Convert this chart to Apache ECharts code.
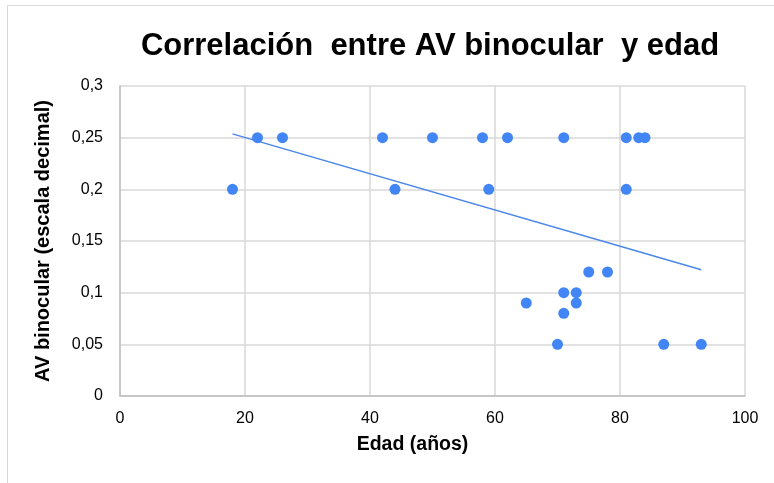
<!DOCTYPE html>
<html><head><meta charset="utf-8">
<script src="https://cdn.jsdelivr.net/npm/echarts@6/dist/echarts.min.js"></script>
<style>html,body{margin:0;padding:0;background:#fff}#c{width:774px;height:483px}</style>
</head><body><div id="c"></div>
<script>
var edad = [18,22,26,42,44,50,58,59,62,71,81,81,83,84,75,78,71,73,65,73,71,70,87,93];
var av   = [0.2,0.25,0.25,0.25,0.2,0.25,0.25,0.2,0.25,0.25,0.25,0.2,0.25,0.25,0.12,0.12,0.1,0.1,0.09,0.09,0.08,0.05,0.05,0.05];
var titleText = 'Correlación  entre AV binocular  y edad';
var xName = 'Edad (años)';
var yName = 'AV binocular (escala decimal)';

var pts = edad.map(function(x,i){return [x, av[i]];});
// linear least-squares trendline over data range
var n = edad.length, sx=0, sy=0, sxx=0, sxy=0;
for (var i=0;i<n;i++){sx+=edad[i];sy+=av[i];sxx+=edad[i]*edad[i];sxy+=edad[i]*av[i];}
var b = (n*sxy - sx*sy)/(n*sxx - sx*sx), a = (sy - b*sx)/n;
var xmin = Math.min.apply(null, edad), xmax = Math.max.apply(null, edad);
var trend = [[xmin, a+b*xmin],[xmax, a+b*xmax]];

var chart = echarts.init(document.getElementById('c'));
chart.setOption({
  animation:false,
  title:{text:titleText,left:425,textAlign:'center',top:26,
    textStyle:{fontFamily:'Liberation Sans, Arial',fontWeight:'bold',fontSize:31,color:'#000'}},
  graphic:[{type:'rect',shape:{x:7.5,y:5.5,width:800,height:600},style:{fill:'none',stroke:'#d9d9d9',lineWidth:1}}],
  grid:{left:120,right:29,top:86,bottom:87},
  xAxis:{type:'value',min:0,max:100,interval:20,
    name:xName,nameLocation:'middle',nameGap:39,
    nameTextStyle:{fontFamily:'Liberation Sans, Arial',fontWeight:'bold',fontSize:19.5,color:'#000',padding:[0,40,0,0]},
    axisLine:{show:true,lineStyle:{color:'#bfbfbf',width:1.5}},axisTick:{show:false},
    axisLabel:{fontFamily:'Liberation Sans, Arial',fontSize:16,color:'#000',margin:15},
    splitLine:{show:true,lineStyle:{color:'#d9d9d9',width:1.5}}},
  yAxis:{type:'value',min:0,max:0.3,interval:0.05,
    name:yName,nameLocation:'middle',nameGap:67,
    nameTextStyle:{fontFamily:'Liberation Sans, Arial',fontWeight:'bold',fontSize:20,color:'#000'},
    axisLine:{show:true,lineStyle:{color:'#bfbfbf',width:1.5}},axisTick:{show:false},
    axisLabel:{fontFamily:'Liberation Sans, Arial',fontSize:16,color:'#000',margin:17,
      formatter:function(v){return String(+v.toFixed(2)).replace('.',',');}},
    splitLine:{show:true,lineStyle:{color:'#d9d9d9',width:1.5}}},
  series:[
    {type:'scatter',data:pts,symbolSize:11,itemStyle:{color:'#4285f4',opacity:1},z:3},
    {type:'line',data:trend,showSymbol:false,symbol:'none',lineStyle:{color:'#4a86e8',width:1.5},z:2}
  ]
});
</script></body></html>
